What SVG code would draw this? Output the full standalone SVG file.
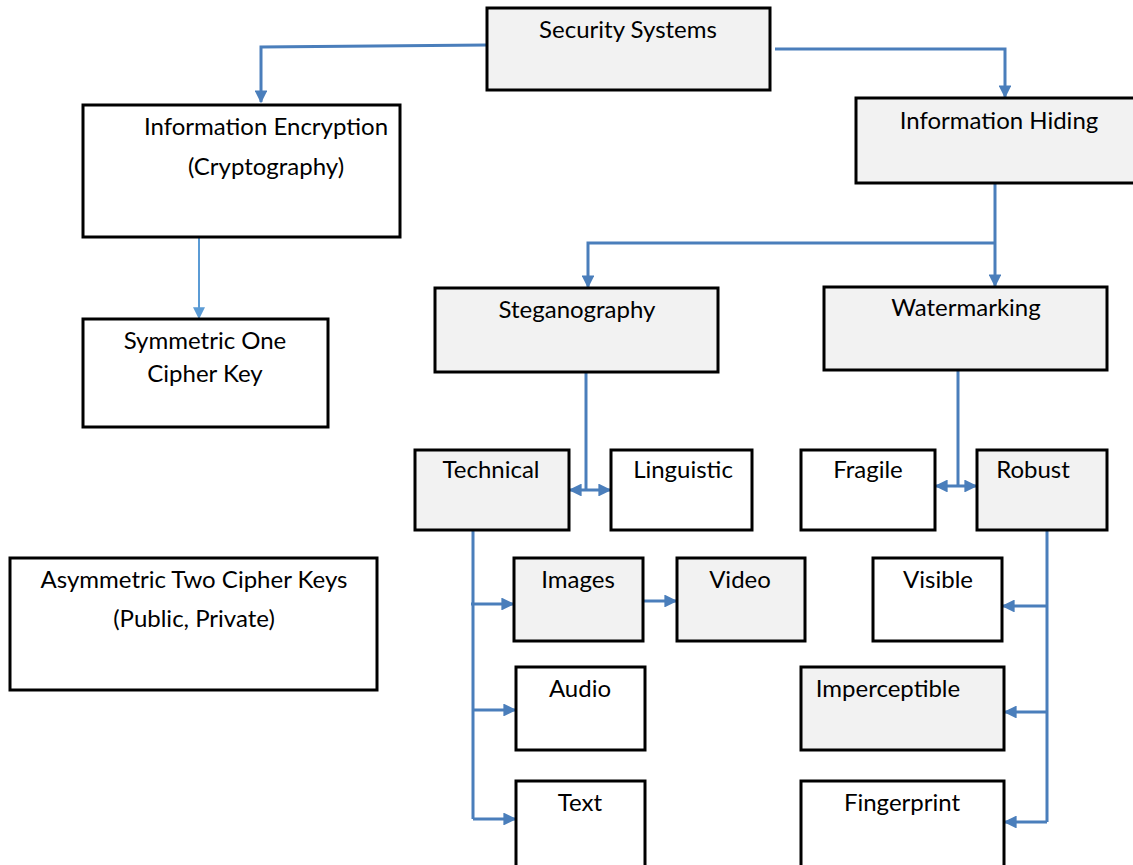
<svg xmlns="http://www.w3.org/2000/svg" width="1133" height="865" viewBox="0 0 1133 865">
<defs>
<marker id="ah" viewBox="0 0 10 10" refX="9" refY="5" markerWidth="4.3" markerHeight="4.3" orient="auto-start-reverse" markerUnits="strokeWidth">
<path d="M0,0 L10,5 L0,10 z" fill="#4a7ebb"/>
</marker>
<marker id="ahl" viewBox="0 0 10 10" refX="9" refY="5" markerWidth="6" markerHeight="6" orient="auto" markerUnits="strokeWidth">
<path d="M0,0 L10,5 L0,10 z" fill="#5b9bd5"/>
</marker>
</defs>
<style>
.b{stroke:#000;stroke-width:3;fill:#fff}
.g{fill:#f2f2f2}
.t{font-family:Lato,"Liberation Sans",sans-serif;font-size:24px;fill:#000;text-anchor:middle}
.c{fill:none;stroke:#4a7ebb;stroke-width:3}
.cl{fill:none;stroke:#5b9bd5;stroke-width:2}
</style>
<rect width="1133" height="865" fill="#fff"/>
<g id="connectors">
<path class="c" d="M487,45 L261,47 L261,102" marker-end="url(#ah)"/>
<path class="c" d="M775,49 L1005,49 L1005,97" marker-end="url(#ah)"/>
<path class="c" d="M995,183 L995,286" marker-end="url(#ah)"/>
<path class="c" d="M995,243 L588,243 L588,287" marker-end="url(#ah)"/>
<path class="cl" d="M199,237 L199,318" marker-end="url(#ahl)"/>
<path class="c" d="M586,372 L586,490"/>
<path class="c" d="M570,490 L610,490" marker-start="url(#ah)" marker-end="url(#ah)"/>
<path class="c" d="M958,370 L958,486"/>
<path class="c" d="M936,486 L976,486" marker-start="url(#ah)" marker-end="url(#ah)"/>
<path class="c" d="M473,530 L473,819"/>
<path class="c" d="M471,604 L513,604" marker-end="url(#ah)"/>
<path class="c" d="M473,710 L515,710" marker-end="url(#ah)"/>
<path class="c" d="M473,819 L515,819" marker-end="url(#ah)"/>
<path class="c" d="M644,601 L676,601" marker-end="url(#ah)"/>
<path class="c" d="M1047,530 L1047,822"/>
<path class="c" d="M1047,606 L1003,606" marker-end="url(#ah)"/>
<path class="c" d="M1047,712 L1005,712" marker-end="url(#ah)"/>
<path class="c" d="M1047,822 L1005,822" marker-end="url(#ah)"/>
</g>
<g id="security-systems"><rect class="b g" x="487" y="8" width="283" height="82"/><text class="t" x="628" y="38">Security Systems</text></g>
<g id="information-encryption"><rect class="b" x="83" y="105" width="317" height="132"/><text class="t" x="266" y="135">Information Encryption</text><text class="t" x="266" y="175">(Cryptography)</text></g>
<g id="information-hiding"><rect class="b g" x="856" y="98" width="280" height="85"/><text class="t" x="999" y="129">Information Hiding</text></g>
<g id="symmetric"><rect class="b" x="83" y="319" width="245" height="108"/><text class="t" x="205" y="349">Symmetric One</text><text class="t" x="205" y="382">Cipher Key</text></g>
<g id="asymmetric"><rect class="b" x="10" y="558" width="367" height="132"/><text class="t" x="194" y="588">Asymmetric Two Cipher Keys</text><text class="t" x="194" y="627">(Public, Private)</text></g>
<g id="steganography"><rect class="b g" x="435" y="288" width="283" height="84"/><text class="t" x="577" y="318">Steganography</text></g>
<g id="watermarking"><rect class="b g" x="824" y="287" width="283" height="83"/><text class="t" x="966" y="316">Watermarking</text></g>
<g id="technical"><rect class="b g" x="415" y="450" width="154" height="80"/><text class="t" x="491" y="478">Technical</text></g>
<g id="linguistic"><rect class="b" x="611" y="450" width="141" height="80"/><text class="t" x="683" y="478">Linguistic</text></g>
<g id="fragile"><rect class="b" x="801" y="450" width="134" height="80"/><text class="t" x="868" y="478">Fragile</text></g>
<g id="robust"><rect class="b g" x="977" y="450" width="130" height="80"/><text class="t" x="1033" y="478">Robust</text></g>
<g id="images"><rect class="b g" x="514" y="558" width="129" height="83"/><text class="t" x="578" y="588">Images</text></g>
<g id="video"><rect class="b g" x="677" y="558" width="128" height="83"/><text class="t" x="740" y="588">Video</text></g>
<g id="visible"><rect class="b" x="873" y="558" width="129" height="83"/><text class="t" x="938" y="588">Visible</text></g>
<g id="audio"><rect class="b" x="516" y="667" width="129" height="83"/><text class="t" x="580" y="697">Audio</text></g>
<g id="imperceptible"><rect class="b g" x="801" y="667" width="203" height="83"/><text class="t" x="888" y="697">Imperceptible</text></g>
<g id="text"><rect class="b" x="516" y="781" width="129" height="90"/><text class="t" x="580" y="811">Text</text></g>
<g id="fingerprint"><rect class="b" x="801" y="781" width="203" height="90"/><text class="t" x="902" y="811">Fingerprint</text></g>
</svg>
